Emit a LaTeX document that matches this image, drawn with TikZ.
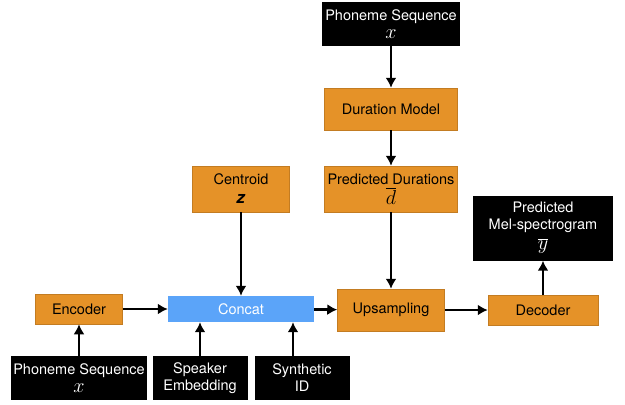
\documentclass[tikz,border=0pt]{standalone}
\usepackage{graphicx}
\usepackage{fontspec}
\setmainfont{TeX Gyre Heros}
\usetikzlibrary{positioning,arrows.meta}

\definecolor{blockorange}{RGB}{229,146,40}
\definecolor{concatblue}{RGB}{91,164,249}
\newcommand{\symb}[1]{\scalebox{1.4}{$#1$}}

\begin{document}
\begin{tikzpicture}[x=1pt, y=1pt,
    block/.style = {draw=blockorange!85!black, line width=0.5pt, fill=blockorange, align=center, inner sep=0pt,
        font=\fontsize{14.5}{16}\selectfont},
    inbox/.style = {fill=black, text=white, align=center, inner sep=0pt, font=\fontsize{14.5}{17}\selectfont},
    cat/.style = {fill=concatblue, text=white, inner sep=0pt, font=\fontsize{14.5}{17}\selectfont},
    arr/.style = {line width=2.8pt, -{Latex[length=10pt,width=11pt]}}]
    \useasboundingbox (0,0) rectangle (625,-405);

    % duration branch
    \node[inbox, minimum width=138pt, minimum height=44pt](phtop) at (391,-24) {Phoneme Sequence\\[1pt]\symb{x}};
    \node[block, minimum width=133pt, minimum height=42pt, node distance=85pt](dur) [below of=phtop] {Duration Model};
    \node[block, minimum width=133pt, minimum height=46pt, node distance=80pt](pred) [below of=dur] {Predicted Durations\\[2pt]\symb{\overline{d}}};
    \node[block, minimum width=107pt, minimum height=42pt, node distance=121pt](ups) [below of=pred] {Upsampling};
    \node[block, minimum width=110pt, minimum height=30pt, node distance=152pt](dec) [right of=ups] {Decoder};
    \node[inbox, minimum width=140pt, minimum height=65pt, node distance=82pt](mel) [above of=dec] {Predicted\\Mel-spectrogram\\[3pt]\symb{\overline{y}}};

    % encoder branch
    \node[block, minimum width=97pt, minimum height=46pt, node distance=150pt](cen) [left of=pred] {Centroid\\[3pt]\scalebox{1.15}{\textbf{\textit{z}}}};
    \node[cat, minimum width=146pt, minimum height=26pt, node distance=120pt](concat) [below of=cen] {Concat};
    \node[block, minimum width=87pt, minimum height=30pt, node distance=162pt](enc) [left of=concat] {Encoder};
    \node[inbox, minimum width=136pt, minimum height=44pt, node distance=69pt](phbot) [below of=enc] {Phoneme Sequence\\[1pt]\symb{x}};
    \node[inbox, minimum width=95pt, minimum height=44pt, node distance=121pt](spk) [right of=phbot] {Speaker\\Embedding};
    \node[inbox, minimum width=95pt, minimum height=44pt, node distance=102pt](syn) [right of=spk] {Synthetic\\ID};

    \draw[arr] (phtop) -- (dur);
    \draw[arr] (dur) -- (pred);
    \draw[arr] (pred) -- (ups);
    \draw[arr] (cen) -- (concat);
    \draw[arr] (phbot) -- (enc);
    \draw[arr] (enc) -- (concat);
    \draw[arr] (spk) -- (spk |- concat.south);
    \draw[arr] ([xshift=-9pt]syn.north) -- ([xshift=-9pt]syn.north |- concat.south);
    \draw[arr] (concat) -- (ups);
    \draw[arr] (ups) -- (dec);
    \draw[arr] (dec) -- (mel);
\end{tikzpicture}
\end{document}
